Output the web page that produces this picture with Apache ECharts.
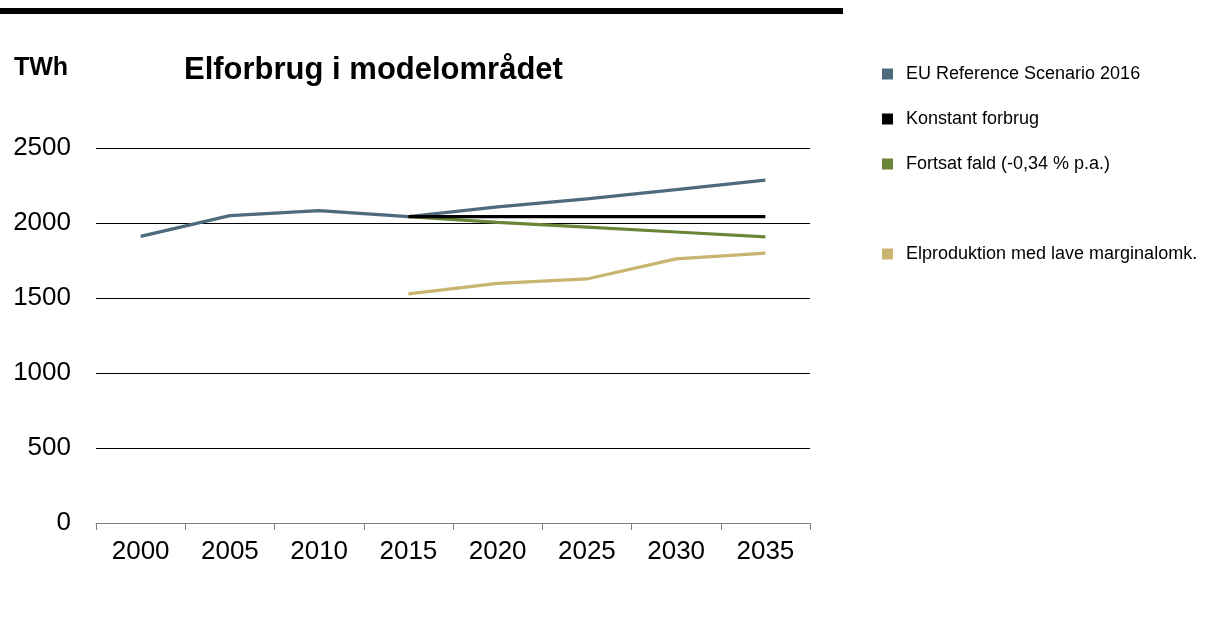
<!DOCTYPE html>
<html>
<head>
<meta charset="utf-8">
<script src="https://cdn.jsdelivr.net/npm/echarts@6/dist/echarts.min.js"></script>
<style>
  html, body { margin: 0; padding: 0; background: #fff; }
  #main { width: 1209px; height: 619px; }
</style>
</head>
<body>
<div id="main"></div>
<script>
// data
var years = ['2000', '2005', '2010', '2015', '2020', '2025', '2030', '2035'];
var euRef = [1911, 2049, 2083, 2042, 2107, 2161, 2223, 2286];
var konstant = [null, null, null, 2042, 2042, 2042, 2042, 2042];
var fortsat = [null, null, null, 2042, 2004, 1973, 1940, 1908];
var elprod = [null, null, null, 1527, 1598, 1627, 1761, 1799];

var names = [
  'EU Reference Scenario 2016',
  'Konstant forbrug',
  'Fortsat fald (-0,34 % p.a.)',
  'Elproduktion med lave marginalomk.'
];
var colors = ['#4e6a7d', '#000000', '#6b8639', '#c9b570'];
var legendTops = [65, 110, 155, 245];

var chart = echarts.init(document.getElementById('main'));
var font = 'Liberation Sans, Arial, sans-serif';

function line(name, data, color, z) {
  return {
    name: name,
    type: 'line',
    data: data,
    symbol: 'none',
    z: z,
    lineStyle: { color: color, width: 3.2 },
    itemStyle: { color: color }
  };
}

// one legend per entry so the gap before the last one can be kept
var legends = names.map(function (n, i) {
  return {
    data: [n],
    left: 882,
    top: legendTops[i],
    padding: 0,
    icon: 'rect',
    itemWidth: 11,
    itemHeight: 11,
    selectedMode: false,
    textStyle: { fontFamily: font, fontSize: 18, lineHeight: 18, color: '#000', padding: [0, 0, 0, 8] }
  };
});

var option = {
  animation: false,
  backgroundColor: '#fff',
  color: colors,
  textStyle: { fontFamily: font },
  graphic: [
    { type: 'rect', shape: { x: 0, y: 8, width: 843, height: 6 }, style: { fill: '#000' } },
    { type: 'text', x: 14, y: 68, style: { text: 'TWh', font: 'bold 25px ' + font, fill: '#000', verticalAlign: 'middle' } },
    { type: 'text', x: 184, y: 70, style: { text: 'Elforbrug i modelområdet', font: 'bold 31px ' + font, fill: '#000', verticalAlign: 'middle' } }
  ],
  legend: legends,
  grid: { left: 96, right: 399, top: 148, bottom: 96 },
  xAxis: {
    type: 'category',
    data: years,
    boundaryGap: true,
    axisLine: { lineStyle: { color: '#808080', width: 1 } },
    axisTick: { show: true, length: 7, lineStyle: { color: '#808080' } },
    axisLabel: { fontFamily: font, fontSize: 26, color: '#000', margin: 16 }
  },
  yAxis: {
    type: 'value',
    min: 0,
    max: 2500,
    interval: 500,
    axisLine: { show: false },
    axisTick: { show: false },
    axisLabel: {
      fontFamily: font, fontSize: 26, color: '#000', margin: 25,
      formatter: function (v) { return String(v); }
    },
    splitLine: { lineStyle: { color: '#000', width: 1 } }
  },
  series: [
    line(names[0], euRef, colors[0], 2),
    line(names[2], fortsat, colors[2], 3),
    line(names[3], elprod, colors[3], 3),
    line(names[1], konstant, colors[1], 4)
  ]
};

chart.setOption(option);
</script>
</body>
</html>
